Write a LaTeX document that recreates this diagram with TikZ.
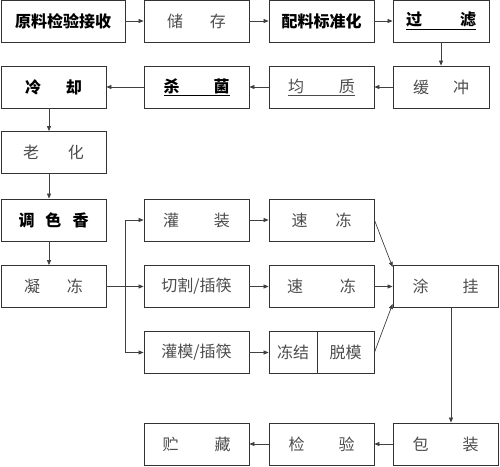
\documentclass[tikz,border=0pt]{standalone}
\usepackage{fontspec}
\newfontfamily\cjk{Noto Sans CJK SC}
\usetikzlibrary{arrows.meta,calc}
\newcommand{\twochar}[3]{#2\hspace{#1pt}#3}

\begin{document}
\begin{tikzpicture}[x=1pt, y=-1pt, >={Triangle[length=5pt,width=4pt]},
	box/.style={draw=black!80, line width=0.8pt, minimum width=105pt, minimum height=42pt,
		inner sep=0pt, text=black!70, font=\cjk\fontsize{16}{18}\selectfont},
	bbox/.style={box, text=black, font=\cjk\bfseries\fontsize{16}{18}\selectfont},
	line/.style={draw=black!75, line width=0.7pt}]
	\useasboundingbox (0,0) rectangle (500,466);
	
	% --- 1. Hàng trên: nguyên liệu -> lọc ---
	\node[bbox, minimum width=124pt] (yuanliao) at (63,21) {原料检验接收};
	\node[box] (chucun) at (196.5,21) {\twochar{27}{储}{存}};
	\node[bbox] (peiliao) at (321.5,21) {配料标准化};
	\node[bbox, minimum width=96pt] (guolv) at (441,21) {\underline{\twochar{38}{过}{滤}}};
	
	% --- 2. Hàng thứ hai (chạy ngược sang trái) ---
	\node[box, minimum width=96pt] (huanchong) at (441,87) {\twochar{24}{缓}{冲}};
	\node[box] (junzhi) at (321.5,87) {\underline{\twochar{35}{均}{质}}};
	\node[bbox] (shajun) at (196.5,87) {\underline{\twochar{34}{杀}{菌}}};
	\node[bbox] (lengque) at (53.5,87) {\twochar{25}{冷}{却}};
	
	% --- 3. Cột trái ---
	\node[box] (laohua) at (53.5,152.5) {\twochar{29}{老}{化}};
	\node[bbox] (tiaose) at (53.5,220) {调\hspace{11pt}色\hspace{11pt}香};
	\node[box] (ningdong) at (53.5,286.5) {\twochar{27}{凝}{冻}};
	
	% --- 4. Ba nhánh ---
	\node[box] (guanzhuang) at (196.5,220) {\twochar{35}{灌}{装}};
	\node[box] (qiege) at (196.5,286.5) {切割/插筷};
	\node[box] (guanmo) at (196.5,352.5) {灌模/插筷};
	
	\node[box] (sudongA) at (321.5,220) {\twochar{28}{速}{冻}};
	\node[box] (sudongB) at (321.5,286.5) {\twochar{37}{速}{冻}};
	\node[box, minimum width=48pt] (dongjie) at (293,352.5) {冻结};
	\node[box, minimum width=57pt] (tuomo) at (345.5,352.5) {脱模};
	
	% --- 5. Cột phải và hàng dưới ---
	\node[box] (tugua) at (445.5,286.5) {\twochar{34}{涂}{挂}};
	\node[box] (baozhuang) at (445.5,444) {\twochar{34}{包}{装}};
	\node[box] (jianyan) at (321.5,444) {\twochar{34}{检}{验}};
	\node[box] (zhucang) at (196.5,444) {\twochar{36}{贮}{藏}};
	
	% --- 6. Mũi tên ---
	\draw[line,->] (yuanliao) -- (chucun);
	\draw[line,->] (chucun) -- (peiliao);
	\draw[line,->] (peiliao) -- (guolv);
	\draw[line,->] (guolv) -- (huanchong);
	\draw[line,->] (huanchong) -- (junzhi);
	\draw[line,->] (junzhi) -- (shajun);
	\draw[line,->] (shajun) -- (lengque);
	\draw[line,->] ([xshift=-4.5pt]lengque.south) -- ([xshift=-4.5pt]laohua.north);
	\draw[line,->] ([xshift=-4.5pt]laohua.south) -- ([xshift=-4.5pt]tiaose.north);
	\draw[line,->] ([xshift=-4.5pt]tiaose.south) -- ([xshift=-4.5pt]ningdong.north);
	
	\coordinate (fork) at ($(ningdong.east)!0.5!(qiege.west)$);
	\draw[line,->] (ningdong) -- (qiege);
	\draw[line,->] (fork) |- (guanzhuang);
	\draw[line,->] (fork) |- (guanmo);
	
	\draw[line,->] (guanzhuang) -- (sudongA);
	\draw[line,->] (qiege) -- (sudongB);
	\draw[line,->] (guanmo) -- (dongjie);
	
	\draw[line,->] (sudongA.east) -- ([yshift=-2pt]tugua.north west);
	\draw[line,->] (sudongB) -- (tugua);
	\draw[line,->] (tuomo.east) -- ([yshift=4pt]tugua.south west);
	
	\draw[line,->] ([xshift=5.5pt]tugua.south) -- ([xshift=5.5pt]baozhuang.north);
	\draw[line,->] (baozhuang) -- (jianyan);
	\draw[line,->] (jianyan) -- (zhucang);
\end{tikzpicture}
\end{document}
